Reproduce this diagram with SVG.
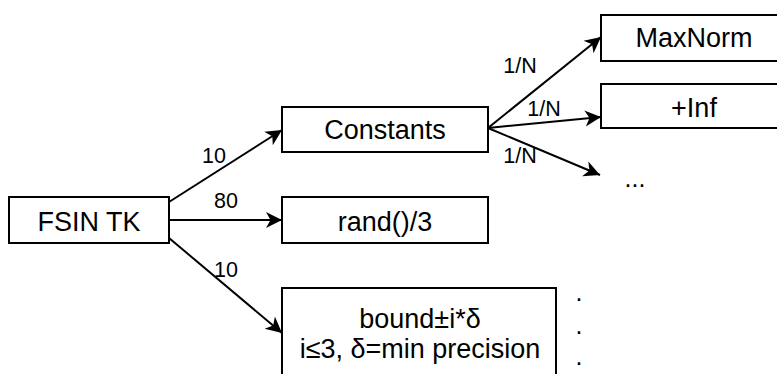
<svg xmlns="http://www.w3.org/2000/svg" width="777" height="374" viewBox="0 0 777 374">
  <style>
    .box { fill: #ffffff; stroke: #000000; stroke-width: 2; }
    .lbl { font-family: "Liberation Sans", Arial, sans-serif; font-size: 27px; fill: #000000; text-anchor: middle; }
    .elbl { font-family: "Liberation Sans", Arial, sans-serif; font-size: 21.5px; fill: #000000; text-anchor: middle; }
    .dots { font-family: "Liberation Sans", Arial, sans-serif; font-size: 25px; fill: #000000; text-anchor: middle; }
    .edge { fill: none; stroke: #000000; stroke-width: 2; marker-end: url(#arrow); }
  </style>
  <defs>
    <marker id="arrow" markerUnits="userSpaceOnUse" markerWidth="18" markerHeight="18" refX="16" refY="9" orient="auto">
      <path d="M0,1 L16,9 L0,17 L4.5,9 Z" fill="#000000"/>
    </marker>
  </defs>

  <rect width="777" height="374" fill="#ffffff"/>

  <!-- connectors -->
  <g id="edges">
    <path class="edge" d="M169,202 L282,130"/>
    <path class="edge" d="M169,220 L282,220"/>
    <path class="edge" d="M169,238 L282,333"/>
    <path class="edge" d="M488,128 L601,37"/>
    <path class="edge" d="M488,128 L601,117"/>
    <path class="edge" d="M488,128 L600,175"/>
    <text class="elbl" x="214" y="163">10</text>
    <text class="elbl" x="226" y="208">80</text>
    <text class="elbl" x="226" y="277">10</text>
    <text class="elbl" x="520" y="73">1/N</text>
    <text class="elbl" x="544" y="116">1/N</text>
    <text class="elbl" x="520" y="163">1/N</text>
  </g>

  <g id="fsin-tk">
    <rect class="box" x="9" y="197" width="160" height="46"/>
    <text class="lbl" x="89" y="231">FSIN TK</text>
  </g>

  <g id="constants">
    <rect class="box" x="282" y="107" width="206" height="45"/>
    <text class="lbl" x="385" y="139">Constants</text>
  </g>

  <g id="rand">
    <rect class="box" x="282" y="197" width="206" height="46"/>
    <text class="lbl" x="385" y="231">rand()/3</text>
  </g>

  <g id="bound">
    <rect class="box" x="282" y="288" width="274" height="100"/>
    <text class="lbl" x="420" y="328">bound±i*δ</text>
    <text class="lbl" x="420" y="358">i≤3, δ=min precision</text>
  </g>

  <g id="maxnorm">
    <rect class="box" x="601" y="15" width="190" height="46"/>
    <text class="lbl" x="694" y="47">MaxNorm</text>
  </g>

  <g id="inf">
    <rect class="box" x="601" y="84" width="190" height="44"/>
    <text class="lbl" x="694" y="117">+Inf</text>
  </g>

  <g id="more-constants">
    <text class="dots" x="635" y="187">...</text>
  </g>

  <g id="more-rows">
    <text class="dots" x="579" y="301">.</text>
    <text class="dots" x="579" y="334">.</text>
    <text class="dots" x="579" y="365">.</text>
  </g>
</svg>
